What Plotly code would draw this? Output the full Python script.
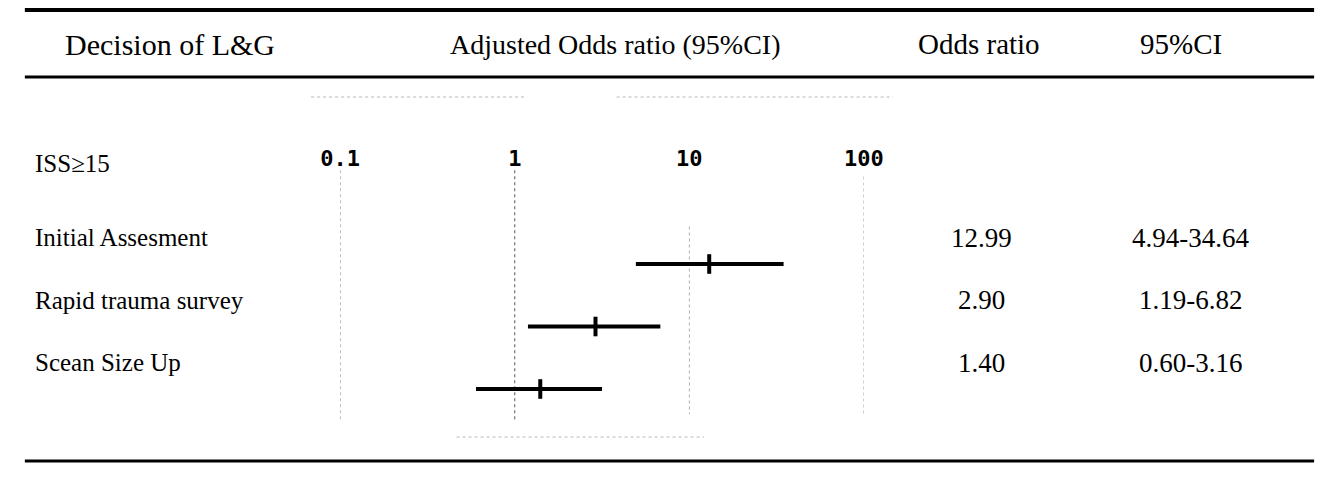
import plotly.graph_objects as go

# ---- data ----
labels = ["Initial Assesment", "Rapid trauma survey", "Scean Size Up"]
odds = [12.99, 2.90, 1.40]
lower = [4.94, 1.19, 0.60]
upper = [34.64, 6.82, 3.16]
or_text = ["12.99", "2.90", "1.40"]
ci_text = ["4.94-34.64", "1.19-6.82", "0.60-3.16"]
tick_vals = [0.1, 1, 10, 100]
tick_text = ["0.1", "1", "10", "100"]
headers = ["Decision of L&G", "Adjusted Odds ratio (95%CI)", "Odds ratio", "95%CI"]
group_label = "ISS≥15"

W, H = 1338, 480
rows = list(range(len(labels)))

fig = go.Figure()

# reference dotted lines at tick values
ref_extent = {0.1: (-1.5, 2.5), 1: (-1.5, 2.5), 10: (-0.6, 2.4), 100: (-1.4, 2.4)}
ref_color = {0.1: "#8a8a8a", 1: "#555555", 10: "#b0b0b0", 100: "#a0a0a0"}
for v in tick_vals:
    y0, y1 = ref_extent[v]
    fig.add_trace(go.Scatter(x=[v, v], y=[y0, y1], mode="lines",
                             line=dict(color=ref_color[v], width=1, dash="dot"),
                             hoverinfo="skip"))

# CI lines
for i in rows:
    fig.add_trace(go.Scatter(x=[lower[i], upper[i]], y=[i, i], mode="lines",
                             line=dict(color="black", width=4), hoverinfo="skip"))

# point estimates
fig.add_trace(go.Scatter(x=odds, y=rows, mode="markers",
                         marker=dict(symbol="line-ns", size=14,
                                     line=dict(color="black", width=4)),
                         hoverinfo="skip"))

ann = []
serif = "Liberation Serif"
hx = [155, 614, 989, 1197]
hs = [30, 28, 29, 29]
for t, x, s in zip(headers, hx, hs):
    ann.append(dict(text=t, x=x / W, y=1 - 44 / H, xref="paper", yref="paper",
                    xanchor="center", yanchor="middle", showarrow=False,
                    font=dict(family=serif, size=s, color="black")))
ann.append(dict(text=group_label, x=13 / W, y=1 - 163 / H, xref="paper", yref="paper",
                xanchor="left", yanchor="middle", showarrow=False,
                font=dict(family=serif, size=25, color="black")))
for i in rows:
    ann.append(dict(text=labels[i], x=13 / W, y=i - 0.42, xref="paper", yref="y",
                    xanchor="left", yanchor="middle", showarrow=False,
                    font=dict(family=serif, size=25, color="black")))
    ann.append(dict(text=or_text[i], x=991 / W, y=i - 0.42, xref="paper", yref="y",
                    xanchor="center", yanchor="middle", showarrow=False,
                    font=dict(family=serif, size=27, color="black")))
    ann.append(dict(text=ci_text[i], x=1207 / W, y=i - 0.42, xref="paper", yref="y",
                    xanchor="center", yanchor="middle", showarrow=False,
                    font=dict(family=serif, size=27, color="black")))

shapes = [
    dict(type="line", xref="paper", yref="paper", x0=5 / W, x1=1334 / W,
         y0=1 - 10 / H, y1=1 - 10 / H, line=dict(color="black", width=4)),
    dict(type="line", xref="paper", yref="paper", x0=5 / W, x1=1334 / W,
         y0=1 - 77 / H, y1=1 - 77 / H, line=dict(color="black", width=3)),
    dict(type="line", xref="paper", yref="paper", x0=5 / W, x1=1334 / W,
         y0=1 - 461 / H, y1=1 - 461 / H, line=dict(color="black", width=3)),
    dict(type="line", xref="paper", yref="paper", x0=300 / W, x1=520 / W,
         y0=1 - 97 / H, y1=1 - 97 / H, line=dict(color="#b8b8b8", width=1, dash="dot")),
    dict(type="line", xref="paper", yref="paper", x0=615 / W, x1=900 / W,
         y0=1 - 97 / H, y1=1 - 97 / H, line=dict(color="#b8b8b8", width=1, dash="dot")),
    dict(type="line", xref="paper", yref="paper", x0=450 / W, x1=705 / W,
         y0=1 - 437 / H, y1=1 - 437 / H, line=dict(color="#b8b8b8", width=1, dash="dot")),
]

fig.update_layout(
    width=W, height=H, margin=dict(l=0, r=0, t=0, b=0),
    paper_bgcolor="white", plot_bgcolor="white", showlegend=False,
    annotations=ann, shapes=shapes,
    xaxis=dict(type="log", range=[-1, 2], domain=[330 / W, 870 / W],
               side="top", anchor="free", position=1 - 170 / H,
               tickvals=tick_vals, ticktext=tick_text, ticks="",
               showgrid=False, zeroline=False, showline=False,
               tickfont=dict(family="DejaVu Sans Mono", size=22, color="black", weight="bold")),
    yaxis=dict(range=[(H - 264) / 62.5, -264 / 62.5], domain=[0, 1], visible=False),
)

fig.write_html("out.html", config={"displayModeBar": False},
               post_script="document.body.style.margin='0';document.body.style.overflow='hidden';")
